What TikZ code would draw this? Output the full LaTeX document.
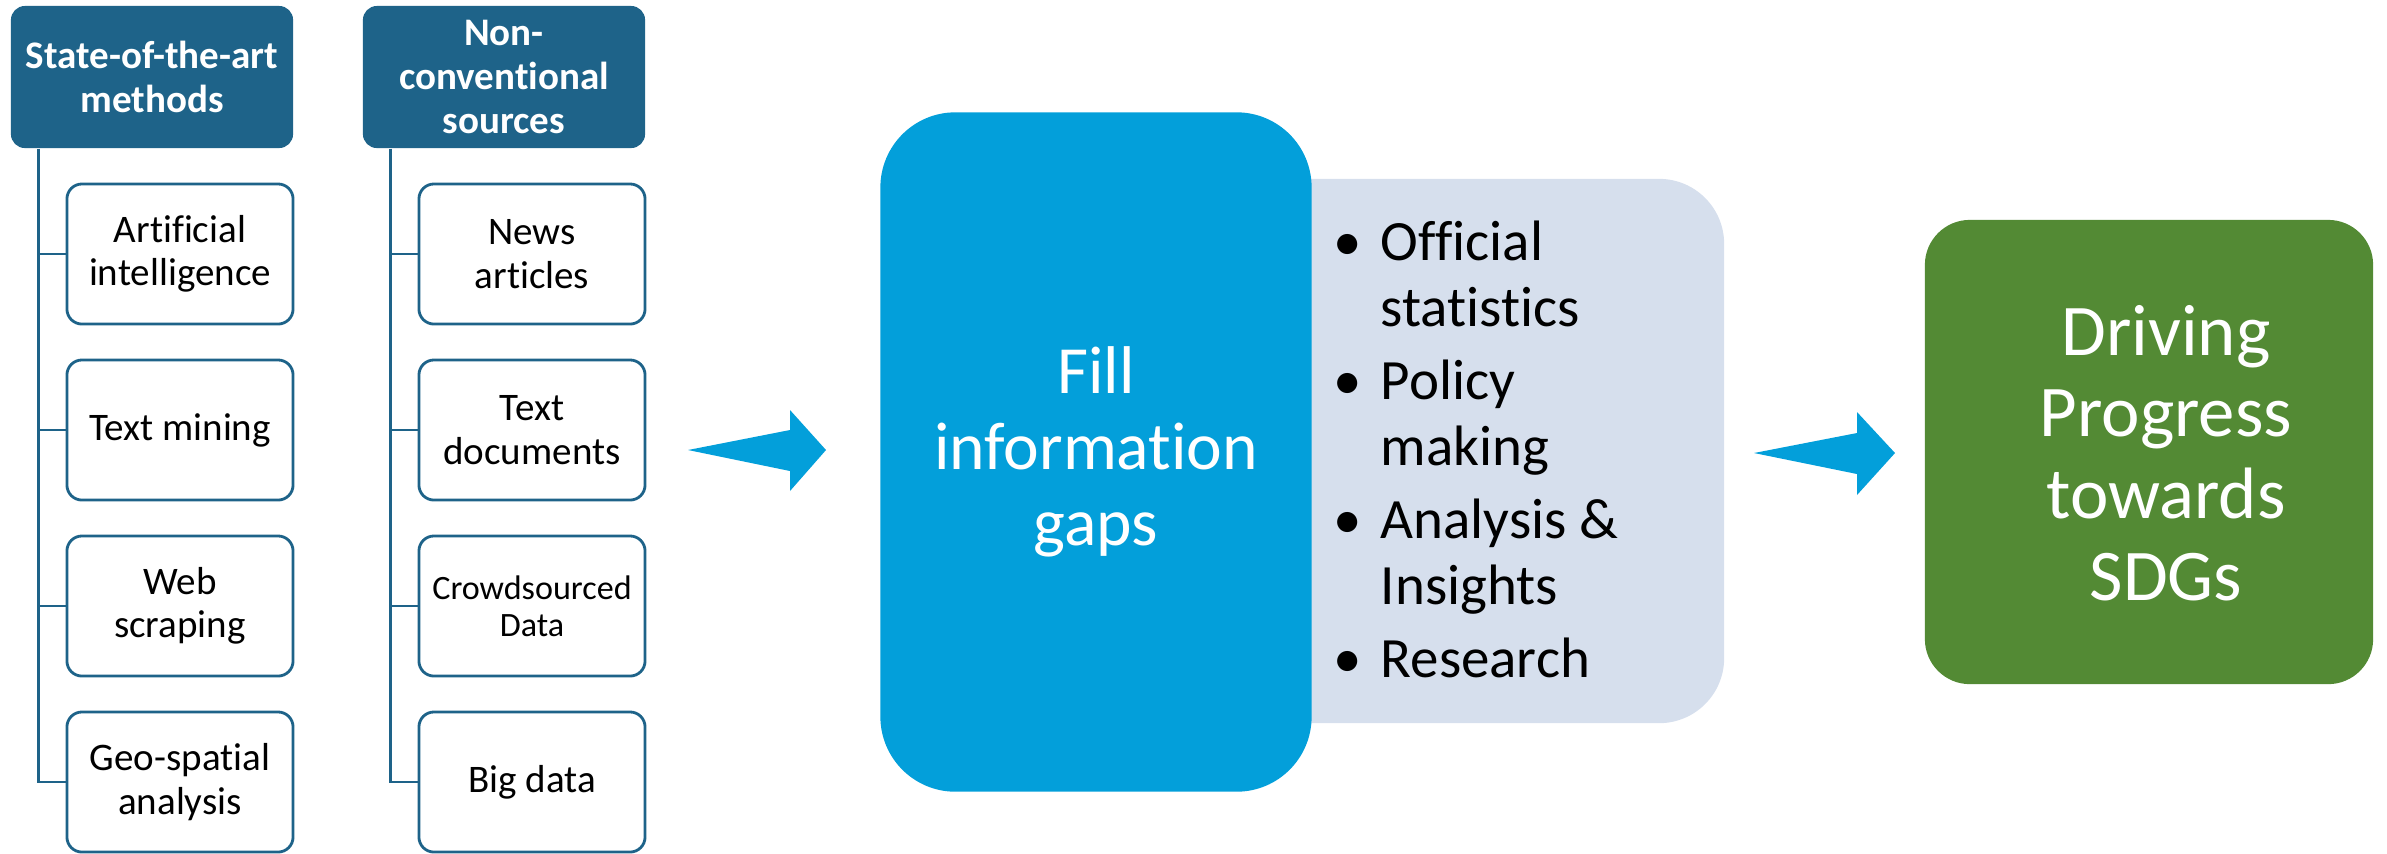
\documentclass[tikz,border=0pt]{standalone}
\usepackage{fontspec}
\setmainfont{Carlito}[Ligatures=NoCommon]
\definecolor{headblue}{RGB}{30,99,137}
\definecolor{gapblue}{RGB}{3,159,218}
\definecolor{usesgrey}{RGB}{214,223,237}
\definecolor{sdggreen}{RGB}{83,138,52}
\tikzset{
    header/.style={fill=headblue, text=white, rounded corners=0.14cm, minimum width=2.82cm, minimum height=1.42cm,
        align=center, inner sep=0pt, font=\fontsize{11.1pt}{12.4pt}\selectfont\bfseries},
    leaf/.style={draw=headblue, line width=0.8pt, fill=white, rounded corners=0.15cm, minimum width=2.26cm,
        minimum height=1.40cm, align=center, inner sep=0pt, font=\fontsize{11.1pt}{12.3pt}\selectfont},
    tree/.style={draw=headblue, line width=0.8pt},
    fatarrow/.style={fill=gapblue},
}
\begin{document}
\begin{tikzpicture}[x=0.01cm, y=-0.01cm]
    \useasboundingbox (0,0) rectangle (2387,853);
    % left: methods and sources
    \node[header] (hm) at (152,77) {State-of-the-art\\methods};
    \node[header] (hs) at (504,77) {Non-\\conventional\\sources};
    \node[leaf] (ai) at (180,254) {Artificial\\intelligence};
    \node[leaf] (tm) at (180,430) {Text mining};
    \node[leaf] (ws) at (180,606) {Web\\scraping};
    \node[leaf] (gs) at (180,782) {Geo-spatial\\analysis};
    \node[leaf] (na) at (532,254) {News\\articles};
    \node[leaf] (td) at (532,430) {Text\\documents};
    \node[leaf, font=\fontsize{9.7pt}{10.45pt}\selectfont] (cd) at (532,606) {Crowdsourced\\Data};
    \node[leaf] (bd) at (532,782) {Big data};
    \coordinate (hmroot) at ([xshift=0.28cm]hm.south west);
    \coordinate (hsroot) at ([xshift=0.28cm]hs.south west);
    \foreach \n in {ai,tm,ws,gs}
        \draw[tree] (hmroot) |- (\n.west);
    \foreach \n in {na,td,cd,bd}
        \draw[tree] (hsroot) |- (\n.west);
    % arrows
    \fill[fatarrow] (688,450) -- (790,430) -- (790,410) -- (826,450) -- (790,491) -- (790,471) -- cycle;
    \fill[fatarrow] (1754,453) -- (1857,433) -- (1857,412) -- (1895,453) -- (1857,495) -- (1857,474) -- cycle;
    % middle
    \node[fill=usesgrey, rounded corners=0.65cm, minimum width=5.24cm, minimum height=5.44cm] (uses) at (1462,451) {};
    \node[fill=gapblue, text=white, rounded corners=0.75cm, minimum width=4.31cm, minimum height=6.79cm,
        align=center, font=\fontsize{19.2pt}{21.6pt}\selectfont] (gaps) at (1096,452) {Fill\\information\\gaps};
    \node[anchor=north west, inner sep=0pt, font=\fontsize{16.2pt}{18.8pt}\selectfont] (list) at (1333,213) {%
        \begin{tabular}{@{}l@{}l@{}}
            \makebox[0.47cm][l]{\textbullet} & Official\\
            & statistics\\[2pt]
            \makebox[0.47cm][l]{\textbullet} & Policy\\
            & making\\[2pt]
            \makebox[0.47cm][l]{\textbullet} & Analysis \&\\
            & Insights\\[2pt]
            \makebox[0.47cm][l]{\textbullet} & Research
        \end{tabular}};
    % right
    \node[fill=sdggreen, rounded corners=0.45cm, minimum width=4.48cm, minimum height=4.64cm] (sdg) at (2149,452) {};
    \node[text=white, align=center, font=\fontsize{20.7pt}{23.25pt}\selectfont] (sdgtext) at (2166,453)
        {Driving\\Progress\\towards\\SDGs};
\end{tikzpicture}
\end{document}
